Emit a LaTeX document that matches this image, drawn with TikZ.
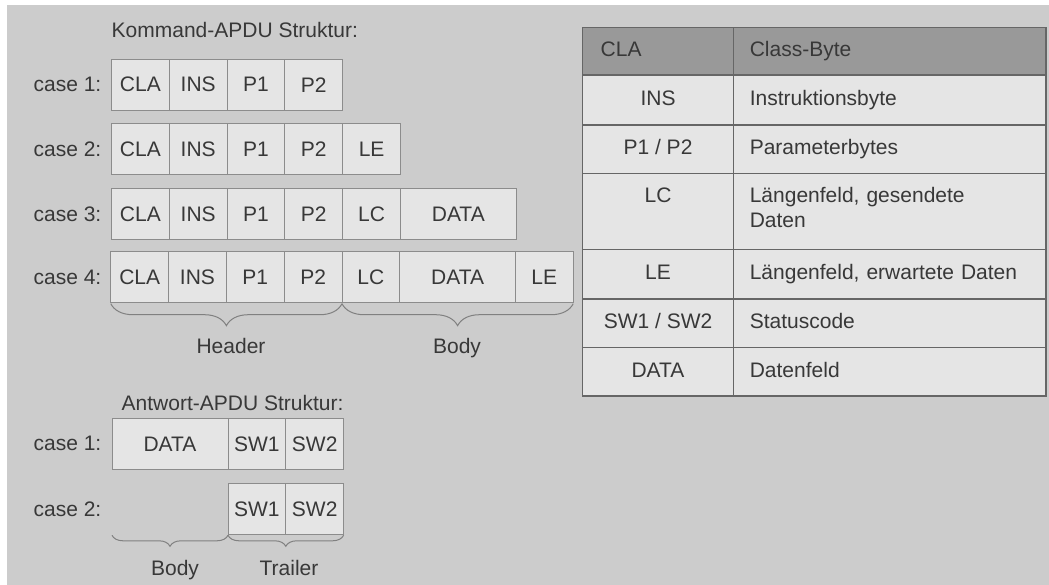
\documentclass[tikz,border=0pt]{standalone}
\usepackage{fontspec}
\setmainfont{Liberation Sans}
\usetikzlibrary{positioning,decorations.pathreplacing}

\begin{document}
\begin{tikzpicture}[x=1pt,y=1pt,
  font=\fontsize{21}{25}\selectfont, text=black!78,
  field/.style={draw=black!45, fill=black!10, line width=1pt, minimum height=51pt, inner sep=0pt, outer sep=0pt},
  caselabel/.style={anchor=east, inner sep=0pt},
  tcell/.style={draw=black!60, fill=black!10, line width=1.3pt, inner sep=0pt, outer sep=0pt, text height=14pt, text depth=3pt},
  keycell/.style={tcell, minimum width=150.6pt, align=center},
  desccell/.style={tcell, minimum width=312.7pt, text width=279.7pt, align=left},
  headcell/.style={fill=black!40},
  fieldbrace/.style={decorate, decoration={brace, mirror, amplitude=#1, raise=1pt}, draw=black!50, line width=1pt},
  bracelabel/.style={anchor=base, inner sep=0pt}]
\useasboundingbox (0,0) rectangle (1049,-585);
\fill[white] (0,0) rectangle (1049,-585);
\fill[black!20] (7,-5) rectangle (1049,-585);

% command APDU
\node[anchor=west, inner sep=0pt] (cmdtitle) at (111.5,-30) {Kommand-APDU Struktur:};
\foreach \row/\lab/\x/\y/\fields in {
  k1/{case 1:}/111.5/-84.7/{CLA/57.8,INS/57.8,P1/57.8,P2/57.8},
  k2/{case 2:}/111.5/-148.8/{CLA/57.8,INS/57.8,P1/57.8,P2/57.8,LE/57.8},
  k3/{case 3:}/111.5/-213.8/{CLA/57.8,INS/57.8,P1/57.8,P2/57.8,LC/57.8,DATA/115.6},
  k4/{case 4:}/110.8/-277.2/{CLA/57.8,INS/57.8,P1/57.8,P2/57.8,LC/57.8,DATA/115.6,LE/57.8},
  r1/{case 1:}/112/-443.8/{DATA/116,SW1/57.8,SW2/57.8},
  r2/{case 2:}/228/-508.8/{SW1/57.8,SW2/57.8}}{
  \node[caselabel] (\row-lab) at (101.5,\y) {\lab};
  \coordinate (\row-0) at (\x,\y);
  \foreach \txt/\w [count=\i, remember=\i as \j (initially 0)] in \fields
    \node[field, minimum width=\w pt, right=0pt of \row-\j] (\row-\i) {\txt};
}
\draw[fieldbrace=22pt] (k4-1.south west) -- (k4-4.south east);
\draw[fieldbrace=22pt] (k4-5.south west) -- (k4-7.south east);
\node[bracelabel] (hdrlab) at (231,-353) {Header};
\node[bracelabel] (bdylab) at (457,-353) {Body};

% response APDU
\node[anchor=west, inner sep=0pt] (rsptitle) at (121.5,-402.5) {Antwort-APDU Struktur:};
\coordinate (bodyleft) at (r1-1.south west |- r2-1.south west);
\draw[fieldbrace=11pt] (bodyleft) -- (r2-1.south west);
\draw[fieldbrace=11pt] (r2-1.south west) -- (r2-2.south east);
\node[bracelabel] (rbdylab) at (175,-575) {Body};
\node[bracelabel] (trllab) at (289,-575) {Trailer};

% legend table
\node[keycell, headcell, text width=114.6pt, align=left, minimum height=47.7pt, anchor=north west] (key-0) at (582.7,-27.3) {CLA};
\node[desccell, headcell, minimum height=47.7pt, right=0pt of key-0] (desc-0) {Class-Byte};
\foreach \key/\desc/\h/\d [count=\r, remember=\r as \p (initially 0)] in {
  INS/Instruktionsbyte/50/3, {P1 / P2}/Parameterbytes/48.3/3,
  LC/{Längenfeld, gesendete\\Daten}/76/31.6, LE/{Längenfeld, erwartete Daten}/49.7/3,
  {SW1 / SW2}/Statuscode/48.3/3, DATA/Datenfeld/48.7/3}{
  \node[keycell, minimum height=\h pt, text depth=\d pt, below=0pt of key-\p] (key-\r) {\key};
  \node[desccell, minimum height=\h pt, text depth=\d pt, right=0pt of key-\r] (desc-\r) {\desc};
}
\end{tikzpicture}
\end{document}
